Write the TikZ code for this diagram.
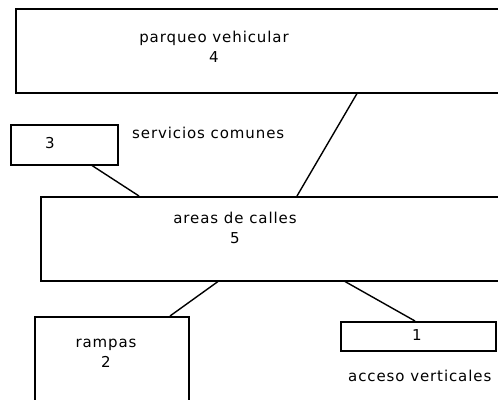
\documentclass[tikz,border=0pt]{standalone}
\usepackage{fontspec}
\setmainfont[LetterSpace=6]{DejaVu Sans}
\begin{document}
\begin{tikzpicture}[x=1pt,y=1pt,
  box/.style={draw,line width=1.5pt,inner sep=0pt,anchor=north west},
  lbl/.style={font=\fontsize{15}{20}\selectfont,align=center,inner sep=0pt},
  conn/.style={line width=1.4pt}]
\useasboundingbox (0,0) rectangle (498,-399);
\clip (0,0) rectangle (498,-399);
\node[box,minimum width=500pt,minimum height=84pt] (b4) at (15,-8) {};
\node[box,minimum width=107pt,minimum height=40pt] (b3) at (10,-124) {};
\node[box,minimum width=470pt,minimum height=84pt] (b5) at (40,-196) {};
\node[box,minimum width=154pt,minimum height=100pt] (b2) at (34,-316) {};
\node[box,minimum width=155pt,minimum height=29pt] (b1) at (340,-321) {};
\node[lbl] (t4) at (214,-47) {parqueo vehicular\\4};
\node[lbl] (t3) at (50,-143) {3};
\node[lbl,anchor=west] (tsc) at (132,-133) {servicios comunes};
\node[lbl] (t5) at (235,-228) {areas de calles\\5};
\node[lbl] (t2) at (106,-353) {rampas\\2};
\node[lbl] (t1) at (417,-335) {1};
\node[lbl,anchor=west] (tav) at (348,-376) {acceso verticales};
\draw[conn] ([xshift=342pt]b4.south west) -- ([xshift=257pt]b5.north west);
\draw[conn] ([xshift=82pt]b3.south west) -- ([xshift=99pt]b5.north west);
\draw[conn] ([xshift=178pt]b5.south west) -- ([xshift=136pt]b2.north west);
\draw[conn] ([xshift=305pt]b5.south west) -- ([xshift=75pt]b1.north west);
\end{tikzpicture}
\end{document}
